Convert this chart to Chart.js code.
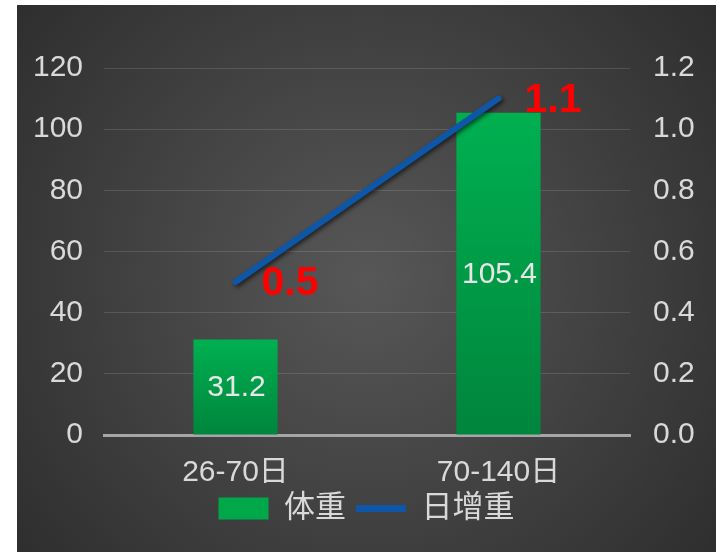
<!DOCTYPE html>
<html>

<head>
    <title>体重 / 日增重</title>
    <script src="https://cdn.jsdelivr.net/npm/chart.js"></script>
    <style>
        body {
            margin: 0;
            background-color: #ffffff;
        }

        .chart-container {
            position: absolute;
            left: 17px;
            top: 5px;
            width: 699px;
            height: 547px;
        }
    </style>
</head>

<body>
    <div class="chart-container">
        <canvas id="growthChart"></canvas>
    </div>

    <script>
        // Chart data
        const categories = ['26-70日', '70-140日'];
        const weight = [31.2, 105.4];        // 体重 (bars, left axis)
        const dailyGain = [0.5, 1.1];        // 日增重 (line, right axis)

        // Axis ranges
        const weightAxis = { min: 0, max: 120, step: 20 };
        const gainAxis = { min: 0, max: 1.2, step: 0.2 };

        const FONT = "'Liberation Sans', 'Noto Sans CJK SC', Arial, sans-serif";
        const TEXT_COLOR = '#d9d9d9';
        const LINE_COLOR = '#0e57a8';

        // Dark radial background
        const backgroundPlugin = {
            id: 'darkBackground',
            beforeDraw(chart) {
                const { ctx, width, height } = chart;
                const g = ctx.createRadialGradient(width * 0.5, height * 0.5, 0, width * 0.5, height * 0.5, width * 0.7);
                g.addColorStop(0, '#575757');
                g.addColorStop(1, '#2a2a2a');
                ctx.save();
                ctx.fillStyle = g;
                ctx.fillRect(0, 0, width, height);
                ctx.restore();
            }
        };

        // Shadow under the line
        const lineShadowPlugin = {
            id: 'lineShadow',
            beforeDatasetDraw(chart, args) {
                if (args.index !== 1) return;
                const ctx = chart.ctx;
                ctx.save();
                ctx.shadowColor = 'rgba(0, 0, 0, 0.6)';
                ctx.shadowBlur = 4;
                ctx.shadowOffsetX = 2;
                ctx.shadowOffsetY = 2;
            },
            afterDatasetDraw(chart, args) {
                if (args.index !== 1) return;
                chart.ctx.restore();
            }
        };

        // Value labels: bar values in the middle, line values in red to the right
        const valueLabelPlugin = {
            id: 'valueLabels',
            afterDatasetsDraw(chart) {
                const ctx = chart.ctx;
                ctx.save();

                const barMeta = chart.getDatasetMeta(0);
                ctx.font = '30px ' + FONT;
                ctx.fillStyle = '#e6e6e6';
                ctx.textAlign = 'center';
                ctx.textBaseline = 'middle';
                barMeta.data.forEach((bar, i) => {
                    const mid = (bar.y + bar.base) / 2;
                    ctx.fillText(weight[i].toFixed(1), bar.x + 1, mid + 1);
                });

                const lineMeta = chart.getDatasetMeta(1);
                ctx.font = 'bold 41px ' + FONT;
                ctx.fillStyle = '#ff0000';
                ctx.textAlign = 'left';
                lineMeta.data.forEach((pt, i) => {
                    ctx.fillText(dailyGain[i].toFixed(1), pt.x + 26, pt.y + 2);
                });

                ctx.restore();
            }
        };

        const ctx = document.getElementById('growthChart').getContext('2d');

        function barGradient(context) {
            const chart = context.chart;
            const yScale = chart.scales.y;
            if (!yScale || !context.parsed) return '#00a84a';
            const top = yScale.getPixelForValue(context.parsed.y);
            const base = yScale.getPixelForValue(0);
            if (!isFinite(top) || !isFinite(base) || top === base) return '#00a84a';
            const g = chart.ctx.createLinearGradient(0, top, 0, base);
            g.addColorStop(0, '#00b050');
            g.addColorStop(1, '#00853d');
            return g;
        }

        const chart = new Chart(ctx, {
            type: 'bar',
            data: {
                labels: categories,
                datasets: [{
                    type: 'bar',
                    label: '体重',
                    data: weight,
                    yAxisID: 'y',
                    backgroundColor: barGradient,
                    borderWidth: 0,
                    barPercentage: 0.32,
                    categoryPercentage: 1,
                    order: 1
                }, {
                    type: 'line',
                    label: '日增重',
                    data: dailyGain,
                    yAxisID: 'y1',
                    borderColor: LINE_COLOR,
                    borderWidth: 6,
                    borderCapStyle: 'round',
                    pointRadius: 0,
                    pointHoverRadius: 0,
                    fill: false,
                    tension: 0,
                    order: 0
                }]
            },
            options: {
                responsive: true,
                maintainAspectRatio: false,
                animation: false,
                layout: {
                    padding: { top: 63, bottom: 18, left: 0, right: 0 }
                },
                scales: {
                    x: {
                        afterFit(scale) { scale.height = 48; },
                        grid: { display: false, drawTicks: false },
                        border: { display: true, color: '#a6a6a6', width: 3 },
                        ticks: {
                            color: TEXT_COLOR,
                            font: { family: FONT, size: 30 },
                            padding: 20
                        }
                    },
                    y: {
                        position: 'left',
                        min: weightAxis.min,
                        max: weightAxis.max,
                        afterFit(scale) { scale.width = 87; },
                        grid: { color: 'rgba(255,255,255,0.13)', lineWidth: 1, drawTicks: false },
                        border: { display: false },
                        ticks: {
                            stepSize: weightAxis.step,
                            color: TEXT_COLOR,
                            font: { family: FONT, size: 30 },
                            padding: 21
                        }
                    },
                    y1: {
                        position: 'right',
                        min: gainAxis.min,
                        max: gainAxis.max,
                        afterFit(scale) { scale.width = 86; },
                        grid: { display: false, drawTicks: false },
                        border: { display: false },
                        ticks: {
                            stepSize: gainAxis.step,
                            color: TEXT_COLOR,
                            font: { family: FONT, size: 30 },
                            padding: 23,
                            callback: (v) => Number(v).toFixed(1)
                        }
                    }
                },
                plugins: {
                    tooltip: { enabled: false },
                    legend: {
                        position: 'bottom',
                        labels: {
                            color: TEXT_COLOR,
                            font: { family: FONT, size: 31 },
                            usePointStyle: true,
                            pointStyleWidth: 50,
                            boxHeight: 22,
                            padding: 10,
                            sort: (a, b) => a.datasetIndex - b.datasetIndex,
                            generateLabels(chart) {
                                const items = Chart.defaults.plugins.legend.labels.generateLabels(chart);
                                items.forEach((item) => {
                                    if (item.datasetIndex === 0) {
                                        item.pointStyle = 'rect';
                                        item.fillStyle = '#00a84a';
                                        item.lineWidth = 0;
                                    } else {
                                        item.pointStyle = 'line';
                                        item.strokeStyle = LINE_COLOR;
                                        item.lineWidth = 7;
                                    }
                                });
                                return items;
                            }
                        }
                    }
                }
            },
            plugins: [backgroundPlugin, lineShadowPlugin, valueLabelPlugin]
        });
    </script>
</body>

</html>
